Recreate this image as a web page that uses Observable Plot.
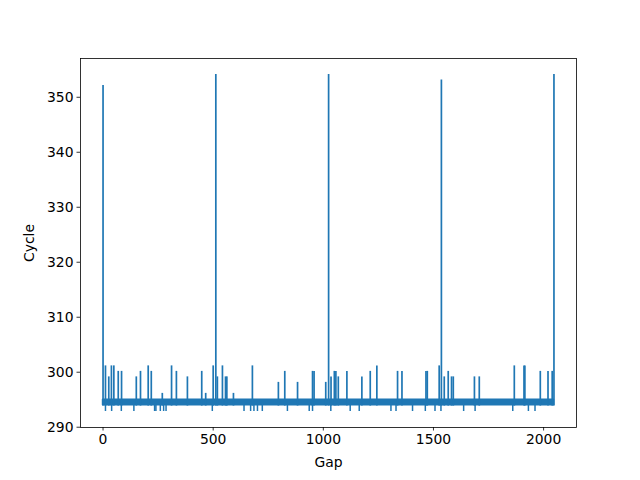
<!DOCTYPE html>
<html><head><meta charset="utf-8">
<script src="https://cdn.jsdelivr.net/npm/d3@7"></script>
<script src="https://cdn.jsdelivr.net/npm/@observablehq/plot@0.6"></script>
<style>body{margin:0;background:#fff}</style>
</head><body><div id="chart"></div>
<script>
// Spikes above the dense 294–295 band (gap, cycle)
const spikeGaps   = [0, 11, 26, 38, 49, 69, 84, 151, 170, 205, 219, 269, 311, 333, 383, 448, 466, 500, 512, 519, 542, 556, 562, 592, 678, 796, 825, 883, 951, 958, 1011, 1024, 1035, 1050, 1057, 1068, 1107, 1175, 1213, 1243, 1337, 1357, 1466, 1472, 1526, 1536, 1549, 1567, 1582, 1590, 1686, 1708, 1867, 1911, 1915, 1985, 2020, 2039, 2047];
const spikeCycles = [352, 301, 299, 301, 301, 300, 300, 299, 300, 301, 300, 296, 301, 300, 299, 300, 296, 301, 354, 299, 301, 299, 299, 296, 301, 298, 300, 298, 300, 300, 298, 354, 299, 300, 300, 299, 300, 299, 300, 301, 300, 300, 300, 300, 301, 353, 299, 300, 299, 299, 299, 299, 301, 301, 301, 300, 300, 300, 354];
// Dips below the band, down to 293
const dipGaps = [11, 39, 83, 140, 234, 240, 260, 275, 286, 496, 640, 670, 685, 701, 723, 837, 936, 951, 1034, 1122, 1163, 1307, 1330, 1405, 1463, 1507, 1534, 1637, 1689, 1860, 1931, 1961];
const dipCycle = 293;
// Dense band where the series alternates between 294 and 295
const bandGaps = [0, 2047];
const bandLow = 294;
const bandHigh = 295;
const xTicks = [0, 500, 1000, 1500, 2000];
const yTicks = [290, 300, 310, 320, 330, 340, 350];

const color = "#1f77b4";
const spikes = spikeGaps.map((g, i) => ({gap: g, low: bandLow, cycle: spikeCycles[i]}));
const dips = dipGaps.map(g => ({gap: g, low: dipCycle, high: bandLow}));
const band = bandGaps.map(g => ({gap: g, low: bandLow, high: bandHigh}));

const chart = Plot.plot({
  width: 640, height: 480,
  marginLeft: 80, marginRight: 64, marginTop: 58, marginBottom: 53,
  style: {fontFamily: "DejaVu Sans", fontSize: "13.9px", background: "#fff", color: "#000"},
  x: {domain: [-102.35, 2149.35]},
  y: {domain: [289.95, 357.05]},
  marks: [
    Plot.areaY(band, {x: "gap", y1: "low", y2: "high", fill: color, stroke: color, strokeWidth: 1.5}),
    Plot.ruleX(dips, {x: "gap", y1: "low", y2: "high", stroke: color, strokeWidth: 1.5, strokeLinecap: "square"}),
    Plot.ruleX(spikes, {x: "gap", y1: "low", y2: "cycle", stroke: color, strokeWidth: 1.7, strokeLinecap: "square"}),
    Plot.frame({stroke: "#000", strokeWidth: 0.8}),
    Plot.axisX({ticks: xTicks, tickFormat: d => String(d), tickSize: 3.5, tickPadding: 3.5, label: "Gap", labelAnchor: "center", labelArrow: "none", labelOffset: 39, strokeWidth: 0.8}),
    Plot.axisY({ticks: yTicks, tickFormat: d => String(d), tickSize: 3.5, tickPadding: 3.5, label: "Cycle", labelAnchor: "center", labelArrow: "none", labelOffset: 56, strokeWidth: 0.8})
  ]
});
document.getElementById("chart").append(chart);
</script>
</body></html>
